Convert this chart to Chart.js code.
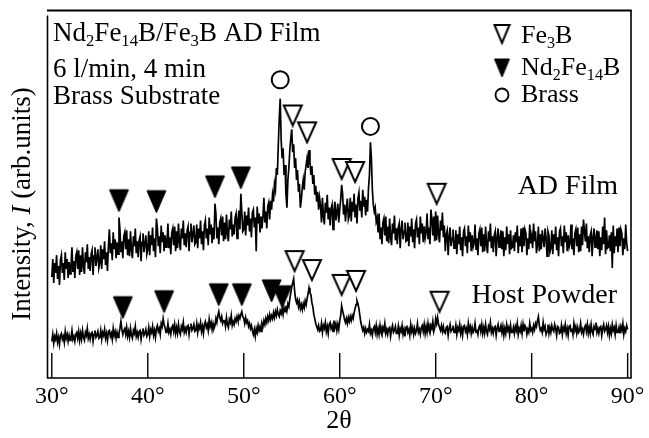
<!DOCTYPE html>
<html><head><meta charset="utf-8">
<script src="https://cdn.jsdelivr.net/npm/chart.js@4/dist/chart.umd.min.js"></script>
<style>html,body{margin:0;padding:0;background:#fff}#wrap{width:649px;height:438px}</style>
</head><body><div id="wrap"><canvas id="c" width="649" height="438"></canvas></div>
<script>
// 2θ sampling grid (degrees)
const thetaStart = 30, thetaStep = 0.1;

// AD Film intensity (arb. units), one value per 0.1° from 30° to 90° (one row per degree)
const adFilm = [
102,120,96,116,106,124,100,113,94,119,
124,106,116,99,127,110,120,101,117,105,
113,132,107,118,101,123,127,110,129,104,
124,107,132,113,105,127,117,135,110,122,
108,125,129,104,123,132,113,121,130,111,
116,134,110,130,120,138,114,127,108,133,
150,126,136,119,147,130,140,121,137,125,
162,150,127,138,121,143,147,130,149,124,
140,123,148,129,121,143,133,151,126,138,
122,139,143,118,137,146,127,135,144,125,
130,148,124,144,134,152,128,141,122,161,
151,133,143,126,154,137,147,128,144,132,
137,156,131,142,125,147,151,134,153,128,
148,131,156,137,129,151,141,159,134,146,
132,149,153,128,147,156,137,145,154,135,
137,155,131,151,141,159,135,148,129,154,
159,141,151,134,162,145,155,136,152,140,
176,166,141,152,135,157,161,144,163,138,
157,140,165,146,138,160,150,168,143,155,
145,162,166,141,160,169,150,186,167,148,
150,168,144,164,154,172,148,161,142,167,
170,152,162,128,173,156,166,147,163,151,
163,182,157,168,151,173,177,160,179,170,
185,178,196,190,212,205,235,262,282,240,
222,232,205,215,185,172,200,212,230,242,
251,228,236,212,222,200,210,188,196,172,
180,192,200,190,208,215,222,212,230,218,
205,214,196,205,185,194,178,188,170,182,
174,157,182,163,155,177,167,185,160,172,
154,171,175,150,169,178,159,167,176,157,
170,180,195,186,165,175,158,172,181,160,
164,182,158,178,168,186,162,175,156,181,
187,169,179,162,190,173,183,164,180,168,
192,205,238,222,190,175,168,172,158,162,
147,166,141,152,135,157,161,144,163,138,
153,136,161,142,134,156,146,164,139,151,
135,152,156,131,150,159,140,148,157,138,
139,157,133,153,143,161,137,150,131,156,
160,142,152,135,163,146,156,137,153,141,
147,166,141,152,135,170,161,144,163,138,
168,139,164,145,137,159,149,167,142,154,
128,145,149,124,143,152,133,141,150,131,
131,149,125,145,135,153,129,142,123,148,
151,133,143,126,154,137,147,128,144,132,
136,155,130,141,124,146,150,133,152,127,
145,128,153,134,126,148,138,156,131,143,
127,144,148,123,142,151,132,140,149,130,
148,123,142,129,153,135,145,125,149,131,
132,144,128,147,137,154,126,143,133,151,
127,152,133,150,146,124,141,130,155,136,
143,131,156,138,148,126,134,153,128,145,
130,149,140,132,151,142,123,148,144,127,
131,149,125,145,135,153,129,142,123,148,
151,133,143,126,154,137,147,128,144,132,
136,155,130,141,124,146,150,133,152,127,
145,128,153,134,160,148,138,156,131,143,
127,144,148,123,142,151,132,140,149,130,
148,123,142,129,153,135,162,125,149,131,
132,144,128,147,111,154,126,143,133,151,
127,152,133,150,146,124,141,130,155,136,
128
];

// Host Powder intensity (arb. units), same grid
const hostPowder = [
37,44,35,42,39,45,36,41,34,43,
45,39,42,36,47,40,44,37,43,38,
41,48,39,42,37,44,46,40,47,38,
45,39,48,41,38,46,43,50,40,44,
39,45,46,37,44,48,41,43,47,40,
41,48,39,46,43,49,40,45,38,47,
48,42,45,39,50,43,47,40,46,41,
45,50,57,49,44,48,50,44,51,42,
47,41,50,43,40,48,45,52,42,46,
41,47,48,39,46,50,43,45,49,42,
44,51,42,49,46,52,43,48,41,50,
53,47,50,44,55,52,60,54,51,46,
48,55,46,49,44,51,53,47,54,45,
51,45,54,47,44,52,49,56,46,50,
46,52,53,44,51,55,48,50,54,47,
48,55,46,53,50,56,47,52,45,54,
57,51,54,48,59,52,56,49,55,50,
53,60,56,63,67,61,58,62,55,58,
58,52,61,54,51,59,56,63,53,57,
54,60,57,62,58,63,60,64,67,62,
60,55,61,56,58,52,55,50,53,48,
44,49,42,50,46,53,48,52,47,55,
52,58,54,60,56,62,58,64,59,63,
60,66,61,67,63,69,64,62,68,65,
70,64,71,67,73,68,75,72,80,86,
92,96,100,88,80,76,79,72,77,70,
74,69,75,71,78,74,80,85,91,86,
84,76,72,64,60,55,52,49,53,47,
48,55,46,53,50,56,47,52,45,54,
56,50,53,47,58,51,55,48,54,49,
58,63,73,68,64,59,56,60,55,61,
57,62,58,63,60,66,70,74,78,75,
70,63,56,52,48,51,45,50,46,49,
47,54,45,48,43,50,52,46,53,44,
50,44,53,46,43,51,48,55,45,49,
44,50,51,42,49,53,46,48,52,45,
45,52,43,50,47,53,44,49,42,51,
52,46,49,43,54,47,51,44,50,45,
48,55,46,49,44,51,53,47,54,45,
52,46,55,48,45,53,50,57,47,51,
60,55,61,54,51,48,53,47,52,46,
45,51,52,43,50,54,47,49,53,46,
46,53,44,51,48,54,45,50,43,52,
53,47,50,44,55,48,52,45,51,46,
48,55,46,49,44,51,53,47,54,45,
51,45,54,47,44,52,49,56,46,50,
45,51,52,43,50,54,47,49,53,46,
52,43,50,45,54,48,51,44,53,46,
46,51,45,52,48,55,44,50,47,53,
45,54,47,53,51,44,49,46,55,48,
50,46,53,49,55,52,58,62,53,48,
50,46,56,49,52,44,47,54,45,51,
46,53,49,47,54,50,43,52,51,45,
46,53,44,51,48,54,45,50,43,52,
53,47,50,44,55,48,52,45,51,46,
48,55,46,49,44,51,53,47,54,45,
51,45,54,47,44,52,49,56,46,50,
45,51,52,43,50,54,47,49,53,46,
52,43,50,45,54,48,51,44,53,46,
46,51,45,52,48,55,44,50,47,53,
49
];

const xTicks = [30, 40, 50, 60, 70, 80, 90];

// Peak markers: [2θ, marker height]
const fe3bPeaks = [[55.1,265],[56.6,248],[60.2,211],[61.6,208],[70.1,186],
                   [55.3,118],[57.1,109],[60.2,94],[61.7,98],[70.4,77]];
const ndPeaks   = [[37.0,179],[40.9,178],[47.0,193],[49.7,202],
                   [37.4,71],[41.7,77],[47.4,84],[49.8,84],[52.9,88],[54.0,82]];
const brassPeaks = [[53.8,301],[63.2,254]];

const FONT = '"Liberation Serif", "Times New Roman", Times, serif';
const toXY = arr => arr.map((v, i) => ({x: thetaStart + i * thetaStep, y: v}));
const toPts = arr => arr.map(p => ({x: p[0], y: p[1]}));

function triCanvas(w, h, filled, lw) {
  const c = document.createElement('canvas');
  c.width = w + 4; c.height = h + 4;
  const g = c.getContext('2d');
  g.beginPath(); g.moveTo(2, 2); g.lineTo(w + 2, 2); g.lineTo(w / 2 + 2, h + 2); g.closePath();
  g.lineJoin = 'miter';
  g.fillStyle = filled ? '#000' : '#fff'; g.fill();
  g.lineWidth = lw; g.strokeStyle = '#000'; g.stroke();
  return c;
}
const openTri = triCanvas(18, 20, false, 2);
const fillTri = triCanvas(19, 22, true, 1);
const openTriS = triCanvas(15, 18, false, 2);
const fillTriS = triCanvas(15, 18, true, 1);

function rich(ctx, parts, x, y, size, align) {
  const f = s => (s ? size * 0.62 : size) + 'px ' + FONT;
  let w = 0;
  parts.forEach(([t, s]) => { ctx.font = f(s); w += ctx.measureText(t).width; });
  let cx = align === 'right' ? x - w : x;
  ctx.textAlign = 'left'; ctx.textBaseline = 'alphabetic';
  parts.forEach(([t, s]) => {
    ctx.font = f(s);
    ctx.fillText(t, cx, y + (s ? size * 0.2 : 0));
    cx += ctx.measureText(t).width;
  });
}

const decor = {
  id: 'decor',
  afterDraw(chart) {
    const {ctx, chartArea: a, scales: {x}} = chart;
    ctx.save();
    ctx.strokeStyle = '#000';
    ctx.lineWidth = 1.6;
    ctx.beginPath();
    ctx.moveTo(a.left + 0.5, a.top + 5); ctx.lineTo(a.left + 0.5, a.bottom);
    ctx.lineTo(a.right, a.bottom); ctx.lineTo(a.right, a.top);
    ctx.stroke();
    ctx.lineWidth = 2;
    ctx.beginPath(); ctx.moveTo(a.left, a.top); ctx.lineTo(a.right + 0.8, a.top); ctx.stroke();
    ctx.lineWidth = 1.4;
    ctx.beginPath();
    x.ticks.forEach(t => {
      const px = x.getPixelForValue(t.value);
      ctx.moveTo(px, a.bottom); ctx.lineTo(px, a.bottom - 25);
    });
    ctx.stroke();

    ctx.fillStyle = '#000';
    rich(ctx, [['Nd',0],['2',1],['Fe',0],['14',1],['B/Fe',0],['3',1],['B AD Film',0]], 53, 41, 27);
    rich(ctx, [['6 l/min, 4 min',0]], 53, 77, 27);
    rich(ctx, [['Brass Substrate',0]], 53, 104, 27);
    ctx.drawImage(openTriS, 502 - openTriS.width / 2, 34 - openTriS.height / 2);
    ctx.drawImage(fillTriS, 502 - fillTriS.width / 2, 68 - fillTriS.height / 2);
    ctx.lineWidth = 1.8;
    ctx.beginPath(); ctx.arc(502, 95, 6.5, 0, Math.PI * 2); ctx.stroke();
    rich(ctx, [['Fe',0],['3',1],['B',0]], 521, 43, 26);
    rich(ctx, [['Nd',0],['2',1],['Fe',0],['14',1],['B',0]], 521, 75, 26);
    rich(ctx, [['Brass',0]], 521, 102, 26);
    ctx.font = '28px ' + FONT;
    ctx.textAlign = 'right'; ctx.textBaseline = 'middle';
    ctx.fillText('AD Film', 618, 187);
    ctx.fillText('Host Powder', 617, 296);
    ctx.translate(23, 204);
    ctx.rotate(-Math.PI / 2);
    const p1 = 'Intensity, ', p2 = 'I', p3 = ' (arb.units)';
    ctx.font = '27px ' + FONT;
    const w1 = ctx.measureText(p1).width, w3 = ctx.measureText(p3).width;
    ctx.font = 'italic 27px ' + FONT;
    const w2 = ctx.measureText(p2).width;
    let sx = -(w1 + w2 + w3) / 2;
    ctx.textAlign = 'left';
    ctx.font = '27px ' + FONT; ctx.fillText(p1, sx, 0); sx += w1;
    ctx.font = 'italic 27px ' + FONT; ctx.fillText(p2, sx, 0); sx += w2;
    ctx.font = '27px ' + FONT; ctx.fillText(p3, sx, 0);
    ctx.restore();
  }
};

new Chart(document.getElementById('c'), {
  type: 'line',
  data: {
    datasets: [
      {label: 'Fe3B', type: 'scatter', data: toPts(fe3bPeaks), pointStyle: openTri, order: 0},
      {label: 'Nd2Fe14B', type: 'scatter', data: toPts(ndPeaks), pointStyle: fillTri, order: 0},
      {label: 'Brass', type: 'scatter', data: toPts(brassPeaks), pointStyle: 'circle',
       pointRadius: 8.5, borderWidth: 2, borderColor: '#000', backgroundColor: 'rgba(255,255,255,0)', order: 0},
      {label: 'AD Film', data: toXY(adFilm), borderColor: '#000', borderWidth: 1.7,
       pointRadius: 0, tension: 0, fill: false, order: 1},
      {label: 'Host Powder', data: toXY(hostPowder), borderColor: '#000', borderWidth: 1.7,
       pointRadius: 0, tension: 0, fill: false, order: 1}
    ]
  },
  options: {
    responsive: false, animation: false, devicePixelRatio: 1,
    layout: {padding: {left: 47, right: 18, top: 7, bottom: 0}},
    plugins: {legend: {display: false}, tooltip: {enabled: false}},
    scales: {
      x: {
        type: 'linear', min: 29.5, max: 90.35,
        afterBuildTicks: s => { s.ticks = xTicks.map(v => ({value: v})); },
        afterFit: s => { s.height = 60; },
        grid: {display: false, drawTicks: false},
        border: {display: false},
        ticks: {padding: 4, color: '#000', autoSkip: false, maxRotation: 0,
                font: {family: FONT, size: 24}, callback: v => v + '°'},
        title: {display: true, text: '2θ', color: '#000',
                font: {family: FONT, size: 26}, padding: {top: 0, bottom: 1}}
      },
      y: {display: false, min: 0, max: 371}
    }
  },
  plugins: [decor]
});
</script>
</body></html>
